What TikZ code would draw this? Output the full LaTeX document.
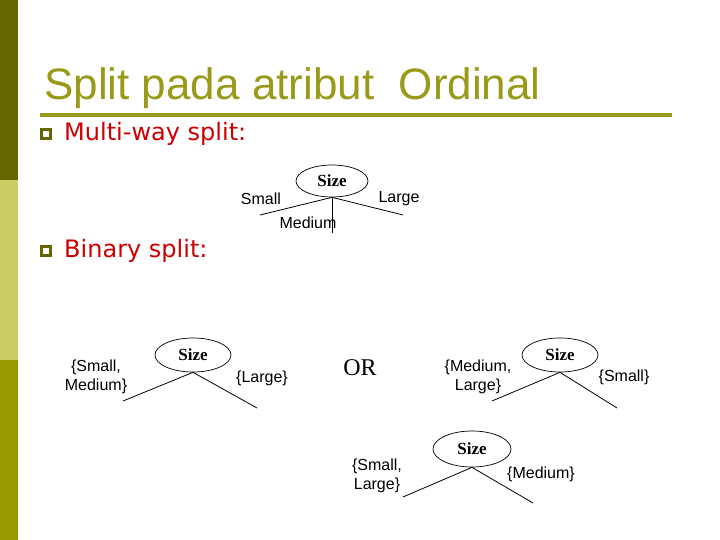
\documentclass[tikz,border=0pt]{standalone}
\usepackage{fontspec}
\setmainfont{Liberation Serif}
\newfontfamily\arialf{Liberation Sans}
\newfontfamily\verdf{DejaVu Sans}
\usetikzlibrary{shapes.geometric}
\definecolor{bardark}{RGB}{102,102,0}
\definecolor{barlight}{RGB}{204,204,102}
\definecolor{barmid}{RGB}{153,153,0}
\definecolor{titlecol}{RGB}{153,153,26}
\definecolor{bulletred}{RGB}{204,0,0}
\tikzset{
  sizenode/.style={ellipse, draw=black, line width=0.7pt, minimum width=76pt, minimum height=34pt, inner sep=0pt, font=\fontsize{17}{17}\selectfont\bfseries},
  branch/.style={line width=0.8pt, black},
  lbl/.style={font=\arialf\fontsize{16}{19}\selectfont, inner sep=0pt, align=center, text=black},
  bullettext/.style={font=\verdf\fontsize{24}{28}\selectfont, text=bulletred, anchor=base west, inner sep=0pt},
  bulletbox/.style={draw=bardark, line width=2.6pt, minimum width=9.5pt, minimum height=9.5pt, inner sep=0pt}
}
\begin{document}
\begin{tikzpicture}[x=1pt,y=-1pt]
\useasboundingbox (0,0) rectangle (720,540);
% left bar
\fill[bardark] (0,0) rectangle (18,180);
\fill[barlight] (0,180) rectangle (18,360);
\fill[barmid] (0,360) rectangle (18,540);
% title
\node[anchor=base west, inner sep=0pt, text=titlecol, font=\arialf\fontsize{44}{50}\selectfont] (title) at (44,100) {Split pada atribut\ \ Ordinal};
\draw[titlecol, line width=3.5pt] (40,115) -- (672,115);
% bullets
\node[bulletbox] (b1) at (46,134) {};
\node[bullettext] (t1) at (64,141) {Multi-way split:};
\node[bulletbox] (b2) at (46,251) {};
\node[bullettext] (t2) at (64,258) {Binary split:};
% multi-way tree
\node[sizenode, minimum width=72pt, minimum height=32pt] (m) at (332,181) {Size};
\coordinate (mL) at (260,215);
\coordinate (mR) at (403,215);
\coordinate (mM) at (332,233);
\draw[branch] (m.south) -- (mL);
\draw[branch] (m.south) -- (mR);
\draw[branch] (m.south) -- (mM);
\node[lbl] (lSmall) at (261,199) {Small};
\node[lbl] (lLarge) at (399,199) {Large};
\node[lbl] (lMedium) at (308,223) {Medium};
% binary tree 1
\node[sizenode] (a) at (193,355) {Size};
\coordinate (aL) at (123,401);
\coordinate (aR) at (257,408);
\draw[branch] (a.south) -- (aL);
\draw[branch] (a.south) -- (aR);
\node[lbl] (aLl) at (96,377) {\{Small,\\Medium\}};
\node[lbl] (aRl) at (262,378) {\{Large\}};
% OR
\node[inner sep=0pt, font=\fontsize{24}{24}\selectfont] (or) at (360,368) {OR};
% binary tree 2
\node[sizenode] (c) at (560,355) {Size};
\coordinate (cL) at (492,401);
\coordinate (cR) at (617,408);
\draw[branch] (c.south) -- (cL);
\draw[branch] (c.south) -- (cR);
\node[lbl] (cLl) at (478,377) {\{Medium,\\Large\}};
\node[lbl] (cRl) at (624,377) {\{Small\}};
% binary tree 3
\node[sizenode, minimum width=78pt, minimum height=36pt] (d) at (472,449) {Size};
\coordinate (dL) at (403,497);
\coordinate (dR) at (533,503);
\draw[branch] (d.south) -- (dL);
\draw[branch] (d.south) -- (dR);
\node[lbl] (dLl) at (377,476) {\{Small,\\Large\}};
\node[lbl] (dRl) at (541,474) {\{Medium\}};
\end{tikzpicture}
\end{document}
